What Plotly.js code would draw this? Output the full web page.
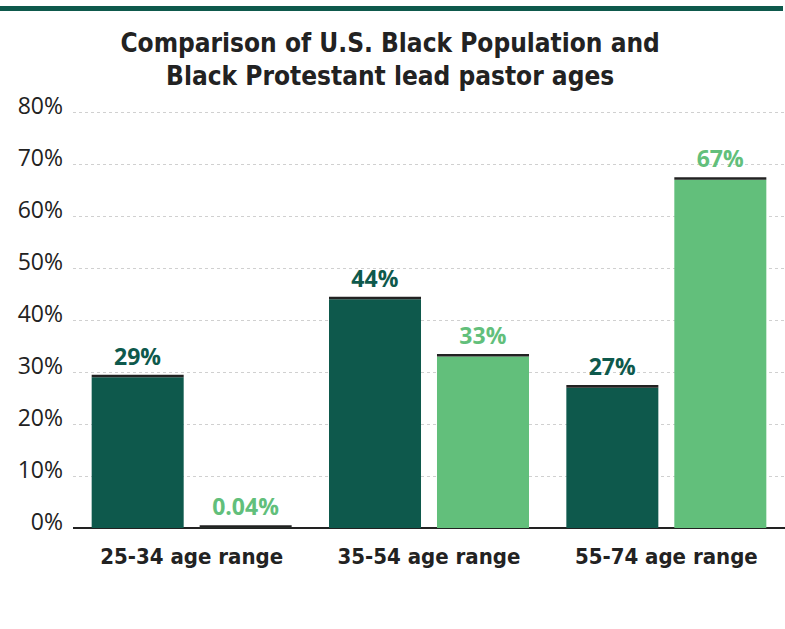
<!DOCTYPE html>
<html>
<head>
<meta charset="utf-8">
<script src="https://cdn.plot.ly/plotly-3.0.1.min.js"></script>
<style>
  html, body { margin: 0; padding: 0; background: #fff; }
  #chart { width: 785px; height: 629px; }
</style>
</head>
<body>
<div id="chart"></div>
<script>
// Age ranges and share (%) of each group in that range
const ageRanges = ['25-34 age range', '35-54 age range', '55-74 age range'];
const blackPopulation = [29, 44, 27];
const blackPastors = [0.04, 33, 67];
const yTicks = [0, 10, 20, 30, 40, 50, 60, 70, 80];

const DARK = '#0e594c';
const LIGHT = '#62bf7b';
const INK = '#222222';
const CAP = 0.5; // thickness of the dark rule drawn on top of each bar (in % units)

const pct = v => v + '%';
const W = 785, H = 629;
const M = { l: 73, r: 0, t: 107, b: 101 };
const plotW = W - M.l - M.r, plotH = H - M.t - M.b;

const traces = [
  {
    type: 'bar', name: 'U.S. Black Population',
    x: ageRanges, y: blackPopulation, offsetgroup: 'pop',
    marker: { color: DARK }, hoverinfo: 'x+y'
  },
  {
    type: 'bar', name: 'Black Protestant lead pastors',
    x: ageRanges, y: blackPastors, offsetgroup: 'pastor',
    marker: { color: LIGHT }, hoverinfo: 'x+y'
  },
  {
    type: 'bar', x: ageRanges, base: blackPopulation,
    y: blackPopulation.map(() => CAP), offsetgroup: 'pop',
    marker: { color: INK }, hoverinfo: 'skip',
    text: blackPopulation.map(pct), textposition: 'outside', constraintext: 'none',
    cliponaxis: false,
    textfont: { family: 'Open Sans', size: 23, weight: 'bold', color: DARK }
  },
  {
    type: 'bar', x: ageRanges, base: blackPastors,
    y: blackPastors.map(() => CAP), offsetgroup: 'pastor',
    marker: { color: INK }, hoverinfo: 'skip',
    text: blackPastors.map(pct), textposition: 'outside', constraintext: 'none',
    cliponaxis: false,
    textfont: { family: 'Open Sans', size: 23, weight: 'bold', color: LIGHT }
  }
];

const layout = {
  width: W, height: H,
  margin: M,
  paper_bgcolor: '#fff', plot_bgcolor: '#fff',
  showlegend: false,
  barmode: 'group',
  bargap: 0.09,
  bargroupgap: 0.148,
  title: {
    text: 'Comparison of U.S. Black Population and<br>Black Protestant lead pastor ages',
    x: 0.497, xanchor: 'center', xref: 'container',
    y: 0.918, yanchor: 'top', yref: 'container',
    font: { family: 'DejaVu Sans Condensed', size: 26, weight: 'bold', color: INK }
  },
  xaxis: {
    type: 'category',
    showgrid: false, showline: false, ticks: '',
    ticklabelstandoff: 13,
    tickfont: { family: 'DejaVu Sans Condensed', size: 22, weight: 'bold', color: INK }
  },
  yaxis: {
    range: [0, 81],
    tickvals: yTicks, ticktext: yTicks.map(pct),
    showgrid: true, gridcolor: '#d0d0d0', griddash: 'dot', gridwidth: 1,
    zeroline: true, zerolinecolor: INK, zerolinewidth: 1.5,
    showline: false, ticks: '',
    ticklabelstandoff: 9, ticklabelshift: -6,
    tickfont: { family: 'Open Sans', size: 23, color: INK }
  },
  shapes: [{
    // header rule across the top of the graphic
    type: 'line', xref: 'paper', yref: 'paper',
    x0: -M.l / plotW, x1: (783 - M.l) / plotW,
    y0: (H - M.b - 8.5) / plotH, y1: (H - M.b - 8.5) / plotH,
    line: { color: DARK, width: 5 }
  }]
};

Plotly.newPlot('chart', traces, layout, { displayModeBar: false, staticPlot: true });
</script>
</body>
</html>
